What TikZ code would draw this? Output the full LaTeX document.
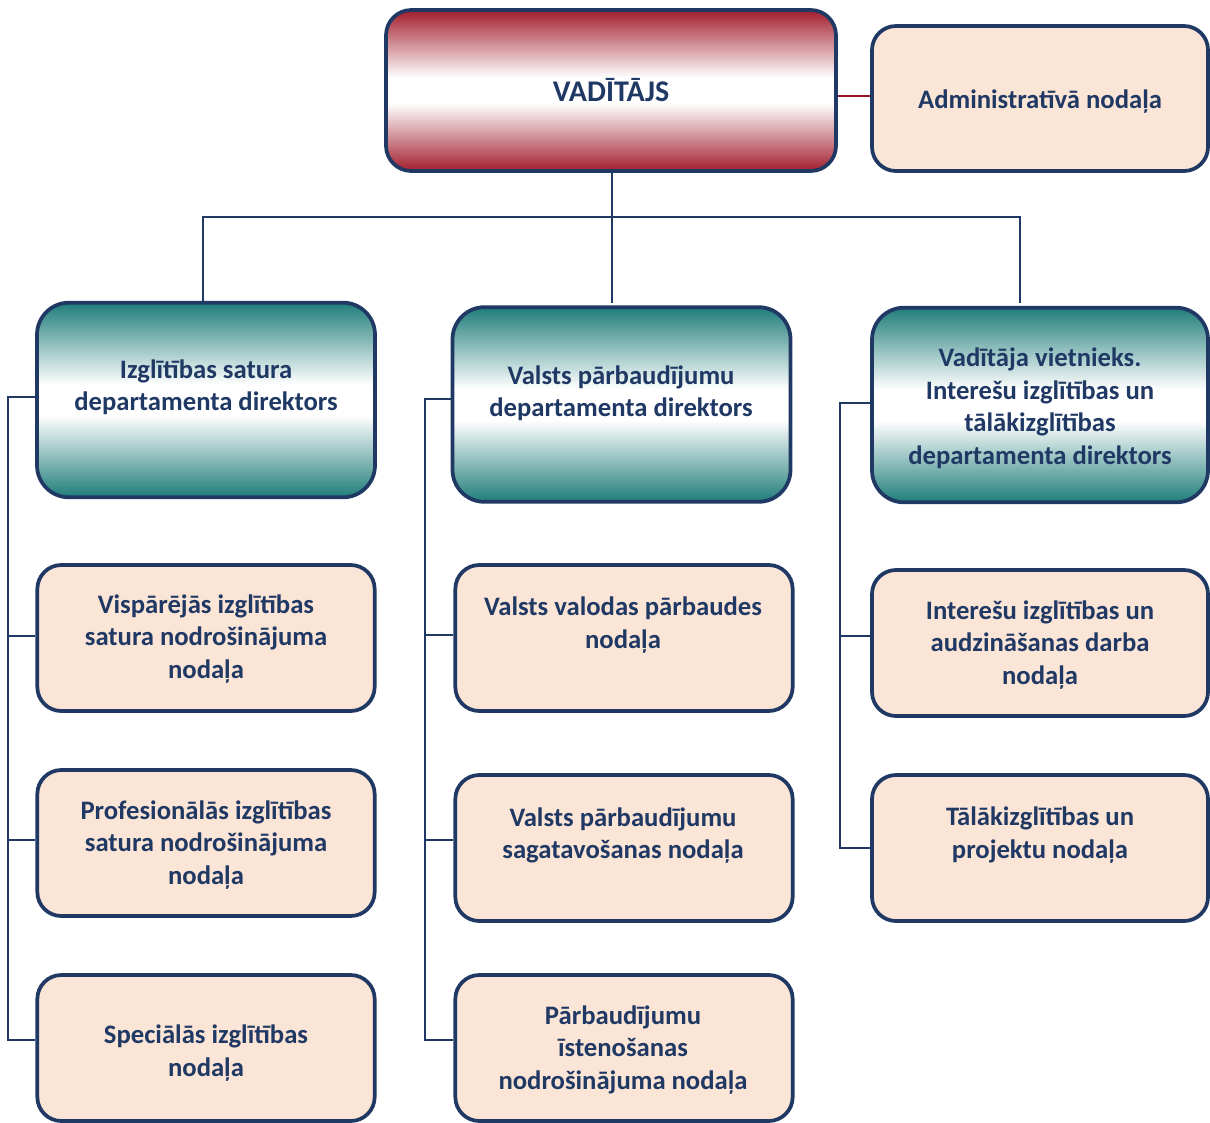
\documentclass[tikz,border=0pt]{standalone}
\usepackage{fontspec}
\setmainfont{Carlito}
\definecolor{navy}{RGB}{31,56,100}
\definecolor{tealc}{RGB}{31,125,122}
\definecolor{redc}{RGB}{162,30,45}
\definecolor{peach}{RGB}{251,229,214}
\definecolor{redline}{RGB}{150,20,30}
\pgfdeclareverticalshading{tealsh}{100bp}{color(0bp)=(tealc); color(25bp)=(tealc); color(46bp)=(white); color(54bp)=(white); color(75bp)=(tealc); color(100bp)=(tealc)}
\pgfdeclareverticalshading{redsh}{100bp}{color(0bp)=(redc); color(25bp)=(redc); color(46bp)=(white); color(54bp)=(white); color(75bp)=(redc); color(100bp)=(redc)}
\begin{document}
\begin{tikzpicture}[x=0.75pt,y=-0.75pt,
  basebox/.style={draw=navy, line width=2.8pt, inner sep=0pt},
  peachbox/.style={basebox, fill=peach, rounded corners=18pt, minimum width=253pt, minimum height=109.5pt},
  tealbox/.style={basebox, shading=tealsh, rounded corners=24pt, minimum width=253.5pt, minimum height=146pt},
  redbox/.style={basebox, shading=redsh, rounded corners=19pt},
  lbl/.style={text=navy, font=\fontsize{20}{24.4}\selectfont\bfseries, align=center, inner sep=0pt, yshift=-1.5pt},
  conn/.style={draw=navy, line width=1.5pt},
  redconn/.style={draw=redline, line width=1.5pt}]
\useasboundingbox (0,0) rectangle (1210,1122);

% top level
\node[redbox, minimum width=337.5pt, minimum height=120.75pt] (top) at (611,90.5) {};
\node[peachbox, minimum width=252pt, minimum height=108.75pt] (admin) at (1040,98.5) {};
\node[lbl, font=\fontsize{22.5}{27}\selectfont\bfseries] (ttop) at (611,88.5) {VADĪTĀJS};
\node[lbl] (tadmin) at (1040,100) {Administratīvā nodaļa};

% directors
\node[tealbox] (d1) at (206,400) {};
\node[tealbox] (d2) at (621.5,404.5) {};
\node[tealbox, minimum width=252pt] (d3) at (1040,405) {};
\node[lbl] (td1) at (206,385) {Izglītības satura\\departamenta direktors};
\node[lbl] (td2) at (621,391) {Valsts pārbaudījumu\\departamenta direktors};
\node[lbl] (td3) at (1040,406) {Vadītāja vietnieks.\\Interešu izglītības un\\tālākizglītības\\departamenta direktors};

% left column
\node[peachbox] (s11) at (206,638) {};
\node[peachbox] (s12) at (206,843) {};
\node[peachbox] (s13) at (206,1048) {};
\node[lbl] (ts11) at (206,637) {Vispārējās izglītības\\satura nodrošinājuma\\nodaļa};
\node[lbl] (ts12) at (206,843) {Profesionālās izglītības\\satura nodrošinājuma\\nodaļa};
\node[lbl] (ts13) at (206,1051) {Speciālās izglītības\\nodaļa};

% middle column
\node[peachbox] (s21) at (624,638) {};
\node[peachbox] (s22) at (624,848) {};
\node[peachbox] (s23) at (624,1048) {};
\node[lbl] (ts21) at (623,623) {Valsts valodas pārbaudes\\nodaļa};
\node[lbl] (ts22) at (623,833.5) {Valsts pārbaudījumu\\sagatavošanas nodaļa};
\node[lbl] (ts23) at (623,1048) {Pārbaudījumu\\īstenošanas\\nodrošinājuma nodaļa};

% right column
\node[peachbox, minimum width=252pt] (s31) at (1040,643) {};
\node[peachbox, minimum width=252pt] (s32) at (1040,848) {};
\node[lbl] (ts31) at (1040,643) {Interešu izglītības un\\audzināšanas darba\\nodaļa};
\node[lbl] (ts32) at (1040,833) {Tālākizglītības un\\projektu nodaļa};

% tree connectors
\coordinate (e1) at (203,303);
\coordinate (e2) at (612,303);
\coordinate (e3) at (1020,303);
\coordinate (j1) at (203,217);
\coordinate (j3) at (1020,217);
\draw[conn] (top.south -| e2) -- (e2);
\draw[conn] (e1) -- (j1) -- (j3) -- (e3);
\draw[redconn] (top.east |- 0,96) -- (admin.west |- 0,96);

% left bus
\draw[conn] ([yshift=2pt]d1.west) -- ++(-27,0) coordinate (b1) |- ([yshift=6pt]s13.west);
\draw[conn] (b1) |- ([yshift=1.5pt]s11.west);
\draw[conn] (b1) |- ([yshift=2.25pt]s12.west);
% middle bus
\draw[conn] ([yshift=4.5pt]d2.west) -- ++(-26,0) coordinate (b2) |- ([yshift=6pt]s23.west);
\draw[conn] (b2) |- ([yshift=2.25pt]s21.west);
\draw[conn] (b2) |- ([yshift=6pt]s22.west);
% right bus
\draw[conn] ([yshift=1.5pt]d3.west) -- ++(-30,0) coordinate (b3) |- ([yshift=5.25pt]s31.west);
\draw[conn] (b3) |- (s32.west);
\end{tikzpicture}
\end{document}
